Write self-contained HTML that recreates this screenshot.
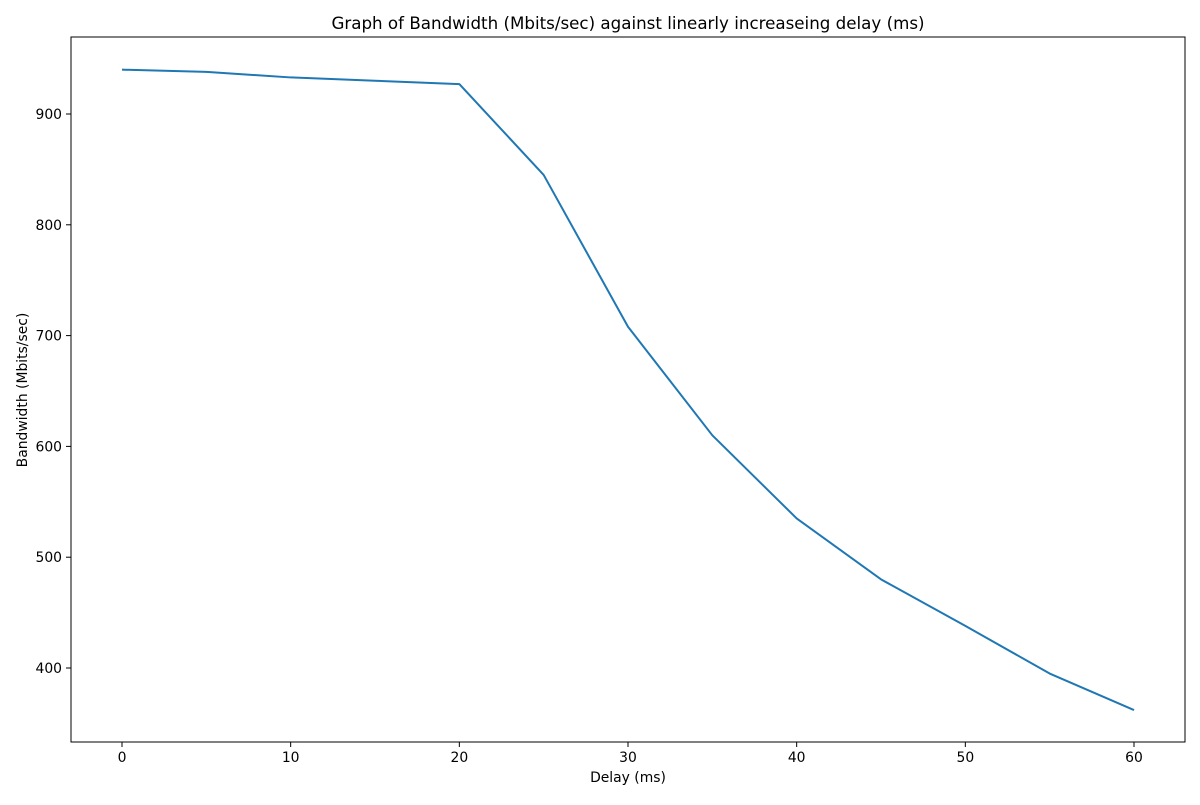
<!DOCTYPE html>
<html><head><meta charset="utf-8"><style>
body{margin:0;background:#fff;font-family:"Liberation Sans","DejaVu Sans",sans-serif;}
svg text{font-family:"DejaVu Sans","Liberation Sans",sans-serif;}
</style></head><body>
<svg id="chart" width="1200" height="800" xmlns="http://www.w3.org/2000/svg">
<rect width="1200" height="800" fill="#fff"/>
<text x="628" y="29" font-size="16.7" text-anchor="middle">Graph of Bandwidth (Mbits/sec) against linearly increaseing delay (ms)</text>
<g id="axes"></g>
<text x="628" y="782" font-size="13.9" text-anchor="middle">Delay (ms)</text>
<text transform="translate(27,390) rotate(-90)" font-size="13.9" text-anchor="middle">Bandwidth (Mbits/sec)</text>
</svg>
<script>
const delays=[0,5,10,15,20,25,30,35,40,45,50,55,60];
const bandwidth=[940,938,933,930,927,845,708,610,535,480,438,395,362];
const xTicks=[0,10,20,30,40,50,60];
const yTicks=[400,500,600,700,800,900];
const L=71,R=1185,T=37,B=742;
const xs=v=>122+(v-0)*(1134-122)/60;
const ys=v=>668-(v-400)*(668-114)/500;
const NS="http://www.w3.org/2000/svg";
const g=document.getElementById('axes');
function mk(t,a){const e=document.createElementNS(NS,t);for(const k in a)e.setAttribute(k,a[k]);g.appendChild(e);return e;}
const pts=delays.map((d,i)=>xs(d)+','+ys(bandwidth[i])).join(' ');
const line=mk('polyline',{points:pts,fill:'none',stroke:'#1f77b4','stroke-width':2,'stroke-linejoin':'round'});


const frame=mk('rect',{x:L,y:T,width:R-L,height:B-T,fill:'none',stroke:'#000','stroke-width':1});


xTicks.forEach(v=>{const x=xs(v);
mk('line',{x1:x,x2:x,y1:B,y2:B+5,stroke:'#000'});
const t=mk('text',{x:x,y:B+20,'font-size':13.9,'text-anchor':'middle'});t.textContent=v;

});
yTicks.forEach(v=>{const y=ys(v);
mk('line',{x1:L-5,x2:L,y1:y,y2:y,stroke:'#000'});
const t=mk('text',{x:L-9,y:y+5,'font-size':13.9,'text-anchor':'end'});t.textContent=v;

});
</script>
</body></html>
